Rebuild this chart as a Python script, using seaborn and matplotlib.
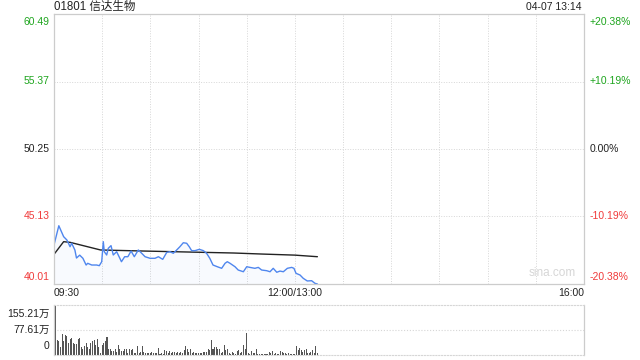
import numpy as np
import pandas as pd
import matplotlib
matplotlib.use("Agg")
import matplotlib.pyplot as plt
import seaborn as sns

# ---------------- data ----------------
title_text = "01801 信达生物"
stamp_text = "04-07 13:14"

price_minutes = [0, 3, 6, 8, 10, 11, 13, 14, 16, 18, 20, 21, 23.5, 26.6, 28.2, 29.7,
                 30.7, 31.3, 32.8, 33.8, 35.5, 36.9, 39, 41, 42, 44, 46, 48, 50, 52.5,
                 54.6, 56.7, 59.8, 62.9, 65, 67.7, 70.2, 72.2, 74.3, 76.4, 78.4, 80.5,
                 82.6, 84.2, 85.7, 87.8, 90.5, 93, 95, 97, 99, 101.7, 104.4, 106.5,
                 107.9, 109.6, 112.7, 114.7, 117.9, 120, 122, 125.1, 127.2, 129.3,
                 132.4, 134.5, 136.5, 138.7, 140.7, 142.8, 145.3, 148, 149.4, 150.7,
                 153.2, 155.2, 157.7, 160.4, 162.5, 164]
price_values = [42.97, 44.43, 43.6, 43.35, 42.84, 43.1, 42.59, 41.98, 42.2, 41.96, 41.45,
                41.58, 41.45, 41.45, 41.40, 41.7, 43.22, 42.46, 42.21, 42.72, 42.92, 42.21,
                42.46, 41.96, 41.70, 42.08, 42.08, 42.51, 42.08, 42.59, 42.34, 42.08,
                41.96, 41.96, 42.08, 41.88, 42.41, 42.46, 42.34, 42.59, 42.84, 43.14,
                43.1, 42.84, 42.54, 42.54, 42.64, 42.54, 42.34, 41.96, 41.45, 41.32,
                41.20, 41.58, 41.70, 41.58, 41.32, 41.07, 40.94, 41.32, 41.27, 41.20,
                41.27, 41.07, 41.02, 40.94, 41.20, 40.90, 40.99, 40.94, 41.20, 41.27,
                41.20, 40.82, 40.69, 40.44, 40.24, 40.26, 40.06, 40.01]

avg_minutes = [0, 6, 10, 29, 56, 82, 112, 130, 150, 164]
avg_values = [42.26, 43.22, 43.17, 42.59, 42.51, 42.44, 42.36, 42.28, 42.20, 42.08]

volume_values = [155.21,
                 46.6, 45, 26, 65, 44, 62, 60, 38, 49, 52, 38, 35, 35, 50, 53, 26, 18, 28, 38,
                 26, 20, 36, 45, 48, 32, 50, 26, 7, 31, 36, 42, 57, 20, 18, 13, 13, 20, 10,
                 31, 18, 13, 13, 18, 20, 7, 20, 15, 20, 7, 5, 28, 7, 10,
                 28, 10, 7, 5, 7, 5, 10, 7, 5, 7, 23, 3, 5, 3, 15, 13, 7, 12, 5, 10, 10, 5,
                 10, 5, 8, 7, 15, 28, 20, 10, 18, 7, 10, 7, 5, 5, 5, 7, 10, 10, 8, 18, 15,
                 47, 18, 26, 26, 20, 18, 5, 10, 31, 15, 20, 5, 3, 10,
                 5, 3, 13, 15, 7, 10, 31, 18, 69, 5, 3, 12, 7, 7, 20, 3, 3, 2, 3, 3, 3, 3,
                 10, 7, 12, 3, 5, 3, 3, 12, 10, 5, 7, 3, 5, 3, 2, 3, 3, 28, 15, 23, 15, 10,
                 15, 18, 5, 5, 10, 15, 7, 28, 5]

price_ticks = [40.01, 45.13, 50.25, 55.37, 60.49]
price_tick_labels = ["40.01", "45.13", "50.25", "55.37", "60.49"]
pct_tick_labels = ["-20.38%", "-10.19%", "0.00%", "+10.19%", "+20.38%"]
vol_ticks = [0, 77.61, 155.21]
vol_tick_labels = ["0", "77.61万", "155.21万"]
time_ticks = [0, 150, 330]
time_tick_labels = ["09:30", "12:00/13:00", "16:00"]
grid_minutes = list(range(0, 331, 30))

# ---------------- style ----------------
sns.set_theme(style="white")
plt.rcParams["font.family"] = ["Liberation Sans", "Noto Sans CJK SC", "DejaVu Sans"]

GREEN = "#1ea51e"
RED = "#f03a3a"
BLACK = "#222222"
BLUE = "#4f86ee"
GRID = "#d6d6d6"
SPINE = "#cccccc"
FS = 7.5
DOT = (0, (1, 1.6))
tick_colors = [RED, RED, BLACK, GREEN, GREEN]

fig = plt.figure(figsize=(6.4, 3.6), dpi=100)
W, H = 640, 360
ax = fig.add_axes([54 / W, 1 - 284 / H, 530 / W, 270 / H])
axv = fig.add_axes([54 / W, 1 - 355 / H, 530 / W, 50 / H])

# ---------------- price panel ----------------
pdf = pd.DataFrame({"m": price_minutes, "p": price_values})
adf = pd.DataFrame({"m": avg_minutes, "p": avg_values})
ax.fill_between(pdf["m"], pdf["p"], price_ticks[0], color=BLUE, alpha=0.035, lw=0)
sns.lineplot(data=adf, x="m", y="p", ax=ax, color=BLACK, lw=1.0)
sns.lineplot(data=pdf, x="m", y="p", ax=ax, color=BLUE, lw=1.0)

ax.set_xlim(0, 330)
ax.set_ylim(price_ticks[0], price_ticks[-1])
ax.set_xlabel("")
ax.set_ylabel("")
for m in grid_minutes[1:-1]:
    ax.axvline(m, color=GRID, lw=0.7, ls=DOT, zorder=0)
for v in price_ticks[1:-1]:
    ax.axhline(v, color=GRID, lw=0.7, ls=DOT, zorder=0)
for s in ax.spines.values():
    s.set_color(SPINE)
    s.set_linewidth(0.9)

ax.set_yticks(price_ticks)
ax.set_yticklabels([])
ax.tick_params(axis="y", length=0)
# edge labels sit just inside the plotting band
offsets = [5, 0, 0, 0, -6]
for v, t, c, dy in zip(price_ticks, price_tick_labels, tick_colors, offsets):
    ax.annotate(t, xy=(0, v), xycoords=("axes fraction", "data"), xytext=(-3, dy),
                textcoords="offset points", ha="right", va="center", fontsize=FS, color=c)
for v, t, c, dy in zip(price_ticks, pct_tick_labels, tick_colors, offsets):
    ax.annotate(t, xy=(1, v), xycoords=("axes fraction", "data"), xytext=(4, dy),
                textcoords="offset points", ha="left", va="center", fontsize=FS, color=c)

ax.set_xticks(time_ticks)
ax.set_xticklabels(time_tick_labels)
ax.tick_params(axis="x", length=0, pad=3, labelsize=FS, labelcolor=BLACK)
xl = ax.get_xticklabels()
xl[0].set_horizontalalignment("left")
xl[-1].set_horizontalalignment("right")

ax.text(0.985, 0.018, "sina.com", transform=ax.transAxes, ha="right", va="bottom",
        fontsize=8.5, color="#d6d6d6")

fig.text(54 / W, 1 - 7 / H, title_text, ha="left", va="center", fontsize=8.3, color=BLACK)
fig.text(582 / W, 1 - 7 / H, stamp_text, ha="right", va="center", fontsize=FS, color=BLACK)

# ---------------- volume panel ----------------
vdf = pd.DataFrame({"m": np.arange(len(volume_values)) + 1, "v": volume_values})
sns.barplot(data=vdf, x="m", y="v", ax=axv, native_scale=True, color="#555555",
            width=0.65, saturation=1, errorbar=None, linewidth=0)
axv.set_xlim(0, 330)
axv.set_ylim(0, vol_ticks[-1])
axv.set_xlabel("")
axv.set_ylabel("")
axv.set_xticks([])
axv.axhline(vol_ticks[1], color=GRID, lw=0.8, ls=DOT, zorder=0)
for k in ["left", "right"]:
    axv.spines[k].set_color(SPINE)
    axv.spines[k].set_linewidth(0.9)
for k in ["top", "bottom"]:
    axv.spines[k].set_color(GRID)
    axv.spines[k].set_linewidth(0.8)
    axv.spines[k].set_linestyle(DOT)
axv.set_yticks(vol_ticks)
axv.set_yticklabels([])
axv.tick_params(axis="y", length=0)
for v, t, dy in zip(vol_ticks, vol_tick_labels, [6.5, 0, -6.5]):
    axv.annotate(t, xy=(0, v), xycoords=("axes fraction", "data"), xytext=(-3, dy),
                 textcoords="offset points", ha="right", va="center", fontsize=FS,
                 color=BLACK)

fig.savefig("out.png", dpi=100)
